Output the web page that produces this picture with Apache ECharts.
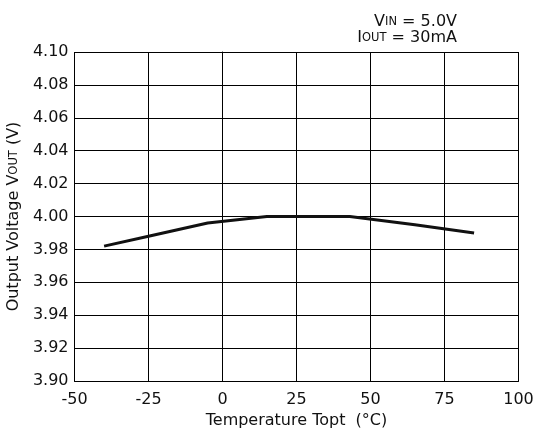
<!DOCTYPE html>
<html><head><meta charset="utf-8">
<script src="https://cdn.jsdelivr.net/npm/echarts@6/dist/echarts.min.js"></script>
<style>html,body{margin:0;padding:0;background:#fff}#c{width:535px;height:432px}</style>
</head><body><div id="c"></div>
<script>
var temps = [-40, -25, -5, 15, 25, 43, 65, 85];
var vout = [3.982, 3.988, 3.996, 4.000, 4.000, 4.000, 3.995, 3.990];
var xTicks = [-50, -25, 0, 25, 50, 75, 100];
var yTicks = [3.90, 3.92, 3.94, 3.96, 3.98, 4.00, 4.02, 4.04, 4.06, 4.08, 4.10];

var F = '"DejaVu Sans", sans-serif';
var richStyle = {
  b: {fontFamily: F, fontSize: 16, fontWeight: 'normal', color: '#111'},
  s: {fontFamily: F, fontSize: 11.5, fontWeight: 'normal', color: '#111'}
};
var chart = echarts.init(document.getElementById('c'));
chart.setOption({
  animation: false,
  backgroundColor: '#fff',
  title: [
    {right: 73, top: 9, text: '{b|V}{s|IN}{b| = 5.0V}', textStyle: {rich: richStyle}},
    {right: 73, top: 25, text: '{b|I}{s|OUT}{b| = 30mA}', textStyle: {rich: richStyle}}
  ],
  grid: {left: 74.5, right: 16.5, top: 52, bottom: 51, containLabel: false, outerBoundsMode: 'none'},
  xAxis: {
    type: 'value', min: xTicks[0], max: xTicks[xTicks.length-1], interval: 25,
    name: 'Temperature Topt  (°C)', nameLocation: 'middle', nameGap: 30,
    nameTextStyle: {fontFamily: F, fontSize: 16, color: '#111'},
    axisLine: {show: true, lineStyle: {color: '#000', width: 1}},
    axisTick: {show: false},
    axisLabel: {fontFamily: F, fontSize: 16, color: '#111', margin: 11},
    splitLine: {show: true, lineStyle: {color: '#000', width: 1}}
  },
  yAxis: {
    type: 'value', min: yTicks[0], max: yTicks[yTicks.length-1], interval: 0.02,
    name: '{b|Output Voltage V}{s|OUT}{b| (V)}', nameLocation: 'middle', nameGap: 47,
    nameTextStyle: {rich: richStyle},
    axisLine: {show: true, lineStyle: {color: '#000', width: 1}},
    axisTick: {show: false},
    axisLabel: {fontFamily: F, fontSize: 16, color: '#111', margin: 6,
      formatter: function (v) { return v.toFixed(2); }},
    splitLine: {show: true, lineStyle: {color: '#000', width: 1}}
  },
  series: [{
    type: 'line',
    data: temps.map(function (t, i) { return [t, vout[i]]; }),
    showSymbol: false,
    lineStyle: {color: '#111', width: 3},
    smooth: false
  }]
});
</script></body></html>
